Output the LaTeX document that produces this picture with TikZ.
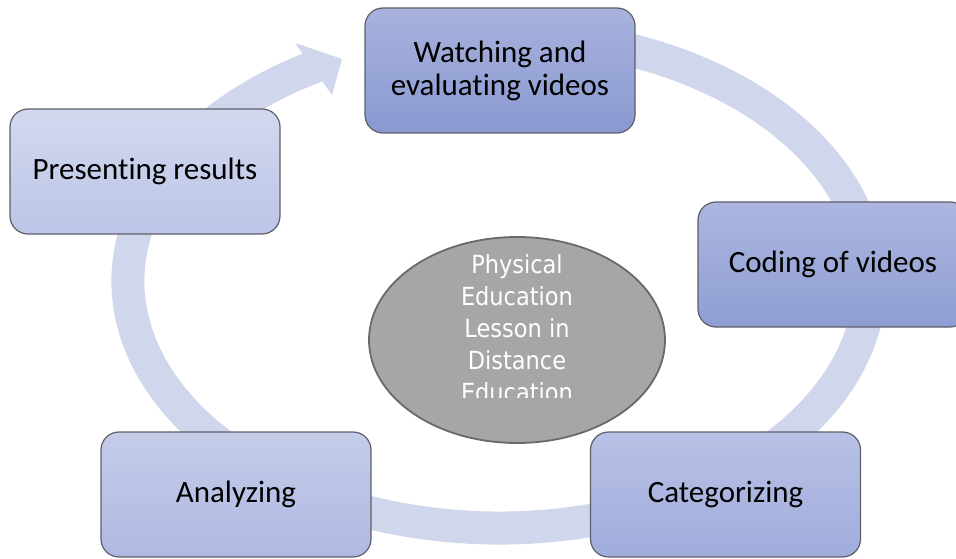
\documentclass[tikz,border=0pt]{standalone}
\usepackage{fontspec}
\setmainfont{Carlito}[Ligatures=NoCommon]
\newfontfamily\ctrfont{DejaVu Sans Condensed}
\usepackage{tikz}
\usetikzlibrary{shapes.geometric}

\definecolor{ringcol}{RGB}{208,214,235}
\definecolor{boxline}{RGB}{95,95,105}

\tikzset{
  stage/.style={draw=boxline, line width=1.2pt, rounded corners=18pt,
    minimum width=270pt, minimum height=125pt, align=center,
    font=\fontsize{31}{33}\selectfont, text=black},
  ring/.style={draw=ringcol, line width=33pt}
}

\begin{document}
\begin{tikzpicture}[x=1pt, y=1pt]
\clip (0,0) rectangle (956,558);
\fill[white] (0,0) rectangle (956,558);
%
% the cycle arrow behind the boxes
\draw[ring] (499,277) ++(75:371 and 247)
  arc[start angle=75, end angle=-241, x radius=371, y radius=247];
\fill[ringcol] (295,515) -- (342,499) -- (332,463) -- cycle;
%
\node[stage, top color={rgb,255:red,168;green,178;blue,221}, bottom color={rgb,255:red,137;green,153;blue,209}]
  (watch) at (500,487.5) {Watching and\\evaluating videos};
\node[stage, top color={rgb,255:red,172;green,182;blue,223}, bottom color={rgb,255:red,142;green,158;blue,211}]
  (code) at (833,293.5) {Coding of videos};
\node[stage, top color={rgb,255:red,184;green,193;blue,229}, bottom color={rgb,255:red,160;green,172;blue,220}]
  (categ) at (725.5,63.5) {Categorizing};
\node[stage, top color={rgb,255:red,198;green,205;blue,234}, bottom color={rgb,255:red,174;green,184;blue,225}]
  (analyze) at (236,63.5) {Analyzing};
\node[stage, top color={rgb,255:red,210;green,216;blue,239}, bottom color={rgb,255:red,189;green,197;blue,231}]
  (present) at (145,386.5) {Presenting results};
%
% centre topic
\node[ellipse, draw={rgb,255:red,105;green,105;blue,105}, line width=1.8pt,
  fill={rgb,255:red,166;green,166;blue,166}, minimum width=296pt, minimum height=206pt]
  (topic) at (517,218) {};
\begin{scope}
\clip (420,161) rectangle (620,320);
\node[text=white, align=center, font=\ctrfont\fontsize{25}{32}\selectfont]
  (topictxt) at (517,230) {Physical\\Education\\Lesson in\\Distance\\Education};
\end{scope}
\end{tikzpicture}
\end{document}
